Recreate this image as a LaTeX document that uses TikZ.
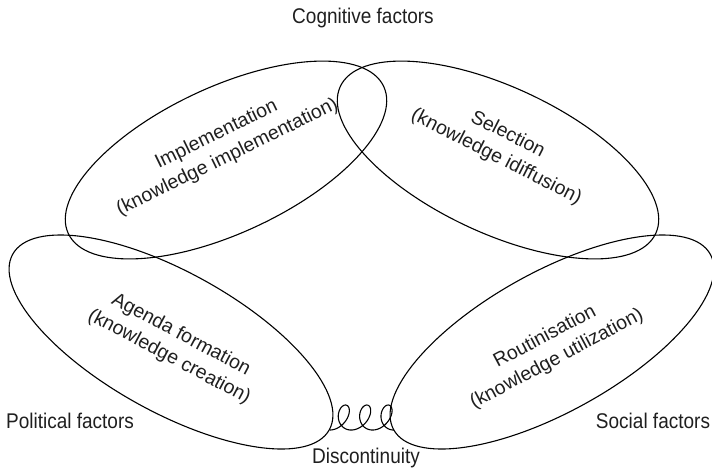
\documentclass[tikz,border=0pt]{standalone}
\usepackage{fontspec}
\setmainfont{Liberation Sans}
\usetikzlibrary{shapes.geometric}
\begin{document}
\begin{tikzpicture}[x=1pt,y=-1pt,
  ln/.style={line width=1.1pt, black},
  bubble/.style={ln, draw, ellipse, inner sep=0pt, minimum width=#1},
  inlbl/.style={align=center, text=black!88, font=\fontsize{19.5}{25}\selectfont},
  outlbl/.style={anchor=base, text=black!88, font=\fontsize{19}{23}\selectfont}]
\useasboundingbox (0,0) rectangle (712,469);

% four stages of the cycle
\node[bubble=348pt, minimum height=146pt, rotate=25]  (impl) at (226,160) {};
\node[bubble=348pt, minimum height=146pt, rotate=-25] (sel)  at (498,160) {};
\node[bubble=362pt, minimum height=140pt, rotate=-29] (agen) at (171,342) {};
\node[bubble=362pt, minimum height=140pt, rotate=29]  (rout) at (552,342) {};

% stage names
\node[inlbl, rotate=26]  (impltxt) at (222,146) {Implementation\\(knowledge implementation)};
\node[inlbl, rotate=-27] (seltxt)  at (502,146) {Selection\\(knowledge idiffusion)};
\node[inlbl, rotate=-28] (agentxt) at (175,346) {Agenda formation\\(knowledge creation)};
\node[inlbl, rotate=28]  (routtxt) at (551,348) {Routinisation\\(knowledge utilization)};

% coiled link between agenda formation and routinisation
\draw[ln] (agen.east) [shift={(agen.east)}]
  -- plot[domain=-180:900, samples=241, variable=\t]
     ({3.4*(\t+180)*pi/180 - 10*sin(\t) + 2.5*(1+cos(\t))}, {-12.5*(1+cos(\t))})
  -- (rout.west);

% surrounding factors
\node[outlbl] (cog) at (363,23)  {\scalebox{1}[1.12]{Cognitive factors}};
\node[outlbl] (pol) at (70,428)  {\scalebox{1}[1.12]{Political factors}};
\node[outlbl] (soc) at (653,428) {\scalebox{1}[1.12]{Social factors}};
\node[outlbl] (dis) at (366,463) {\scalebox{1}[1.12]{Discontinuity}};
\end{tikzpicture}
\end{document}
